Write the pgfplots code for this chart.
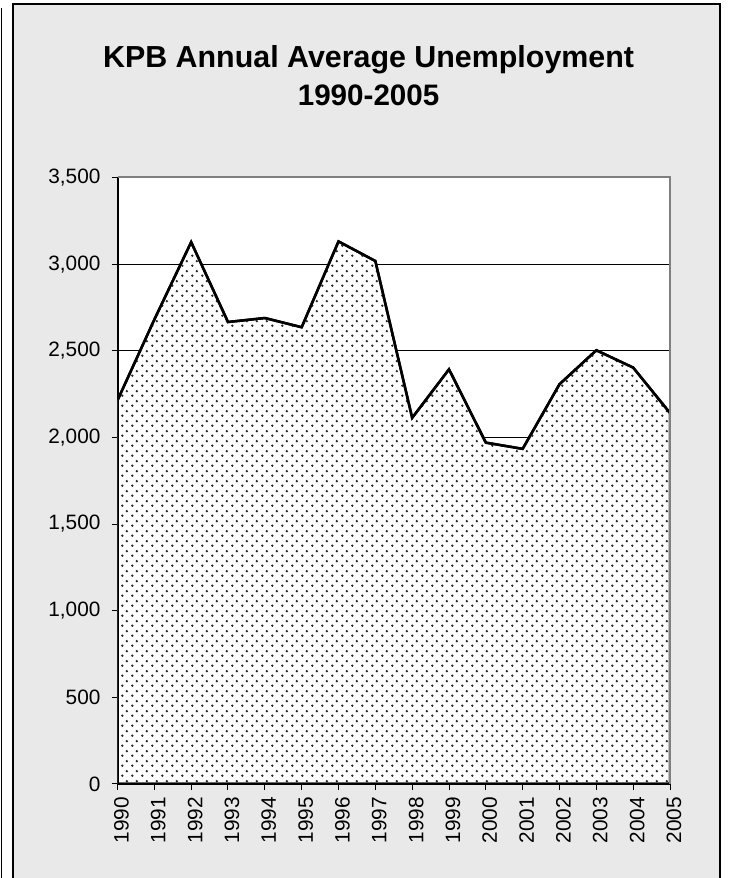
\documentclass[border=0pt]{standalone}
\usepackage{fontspec}
\setmainfont{Liberation Sans}
\usepackage{pgfplots}
\pgfplotsset{compat=1.18}
\usetikzlibrary{patterns}

\definecolor{panelgray}{RGB}{233,233,233}
\definecolor{framegray}{RGB}{128,128,128}

% staggered dot fill, like the spreadsheet pattern
\pgfdeclarepatternformonly{exceldots}{\pgfqpoint{0pt}{0pt}}{\pgfqpoint{5pt}{5pt}}{\pgfqpoint{5pt}{5pt}}{%
  \pgfpathcircle{\pgfqpoint{1.25pt}{1.25pt}}{0.7pt}%
  \pgfpathcircle{\pgfqpoint{3.75pt}{3.75pt}}{0.7pt}%
  \pgfusepath{fill}%
}

\begin{document}
\begin{tikzpicture}
\useasboundingbox (0,0) rectangle (364.5pt,439pt);
\fill[white] (0,0) rectangle (364.5pt,439pt);
\begin{scope}
\clip (0,0) rectangle (364.5pt,439pt);
\draw[black, line width=0.6pt] (0.9pt,-2pt) -- (0.9pt,435pt);
\draw[black, line width=0.6pt, fill=panelgray] (6.5pt,-5pt) rectangle (360pt,437pt);
\end{scope}

\node[anchor=base, font=\bfseries\fontsize{15.2}{17}\selectfont] at (184.3pt,405pt) {KPB Annual Average Unemployment};
\node[anchor=base, font=\bfseries\fontsize{14.8}{17}\selectfont] at (184.3pt,386.1pt) {1990-2005};

\begin{axis}[
  at={(58.75pt,47pt)}, anchor=south west,
  scale only axis, width=276.25pt, height=303.25pt,
  xmin=1990, xmax=2005, ymin=0, ymax=3500,
  xtick={1990,1991,...,2005},
  ytick={0,500,...,3500},
  axis lines=left,
  axis line style={-, black, line width=1pt},
  axis background/.style={fill=white},
  ymajorgrids,
  grid style={black, line width=0.5pt},
  tick align=outside,
  major tick length=3pt,
  tick style={black, line width=0.5pt},
  /pgf/number format/assume math mode=true,
  tick label style={font=\fontsize{10.4}{12}\selectfont},
  yticklabel style={/pgf/number format/1000 sep={,}, xshift=-2pt},
  xticklabel style={/pgf/number format/1000 sep={}, rotate=90, anchor=east, yshift=-2pt},
  after end axis/.code={
    \draw[framegray, line width=1pt] (rel axis cs:0,1) -- (rel axis cs:1,1) -- (rel axis cs:1,0);
  },
]
\addplot[draw=black, line width=1.25pt, fill=white,
  postaction={pattern=exceldots, pattern color=black!85}] coordinates {
  (1990,2214) (1991,2680) (1992,3127) (1993,2666) (1994,2689) (1995,2636)
  (1996,3131) (1997,3018) (1998,2113) (1999,2393) (2000,1970) (2001,1934)
  (2002,2307) (2003,2503) (2004,2403) (2005,2141)
} \closedcycle;
\end{axis}
\end{tikzpicture}
\end{document}
